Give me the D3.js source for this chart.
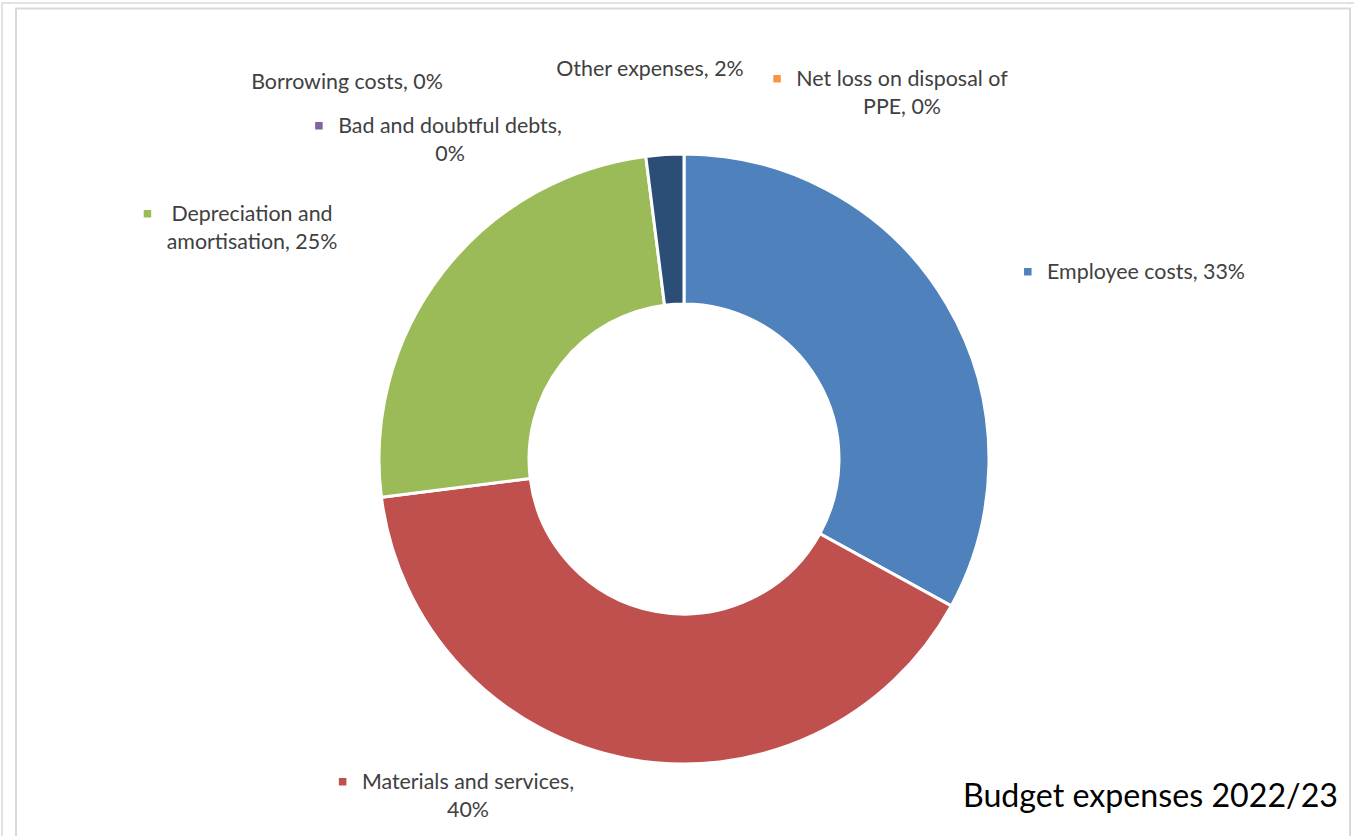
<!DOCTYPE html>
<html>
<head>
<meta charset="utf-8">
<script src="https://cdn.jsdelivr.net/npm/d3@7"></script>
<style>
  html, body { margin: 0; padding: 0; background: #fff; }
  svg { display: block; }
</style>
</head>
<body>
<svg id="chart" width="1354" height="836"></svg>
<script>
// Expense categories, in series order, with their share of the budget (%)
const categories = [
  "Employee costs",
  "Materials and services",
  "Depreciation and amortisation",
  "Bad and doubtful debts",
  "Borrowing costs",
  "Net loss on disposal of PPE",
  "Other expenses"
];
const values = [33, 40, 25, 0, 0, 0, 2];
const colors = ["#4F81BD", "#C0504D", "#9BBB59", "#8064A2", "#4BACC6", "#F79646", "#2C4D75"];
const title = "Budget expenses 2022/23";

// Data label placement: text-block centre x, first-line baseline y,
// number of words kept on the first line, and whether a legend key is shown.
const labelLayout = [
  { cx: 1146, y: 279, firstWords: 99, key: true },
  { cx: 468,  y: 789, firstWords: 3,  key: true },
  { cx: 252,  y: 221, firstWords: 2,  key: true },
  { cx: 450,  y: 133, firstWords: 4,  key: true },
  { cx: 347,  y: 89,  firstWords: 99, key: false },
  { cx: 902,  y: 86,  firstWords: 5,  key: true },
  { cx: 650,  y: 76,  firstWords: 99, key: false }
];

const svg = d3.select("#chart");
const W = 1354, H = 836;

// Chart frames
svg.append("rect")
  .attr("x", 2).attr("y", 3).attr("width", W + 10).attr("height", H + 10)
  .attr("fill", "none").attr("stroke", "#d9d9d9").attr("stroke-width", 1.5);
svg.append("rect")
  .attr("x", 16).attr("y", 8.5).attr("width", 1334).attr("height", H + 10)
  .attr("fill", "#fff").attr("stroke", "#d9d9d9").attr("stroke-width", 2);

// Donut geometry
const cx = 684, cy = 459;
const outerR = 305, innerR = 155;

const pie = d3.pie().sort(null).value(d => d.value).startAngle(0).endAngle(2 * Math.PI);
const arc = d3.arc().innerRadius(innerR).outerRadius(outerR);

const data = categories.map((name, i) => ({ name, value: values[i], color: colors[i], layout: labelLayout[i] }));

const g = svg.append("g").attr("transform", `translate(${cx},${cy})`);
g.selectAll("path.slice")
  .data(pie(data).filter(d => d.data.value > 0))
  .join("path")
  .attr("class", "slice")
  .attr("d", arc)
  .attr("fill", d => d.data.color)
  .attr("stroke", "#fff")
  .attr("stroke-width", 3)
  .attr("stroke-linejoin", "miter");

// Data labels: "Name, value%" with optional legend key
const fontFamily = "Lato, 'Open Sans', sans-serif";
const labelSize = 21.4;
const lineGap = 28;

const labels = svg.append("g").attr("class", "labels");
data.forEach(d => {
  const words = (d.name + ", " + d.value + "%").split(" ");
  const n = Math.min(d.layout.firstWords, words.length);
  const lines = [words.slice(0, n).join(" ")];
  if (n < words.length) lines.push(words.slice(n).join(" "));

  const t = labels.append("text")
    .attr("font-family", fontFamily)
    .attr("font-size", labelSize)
    .attr("fill", "#404040")
    .attr("text-anchor", "middle");
  lines.forEach((line, k) => {
    t.append("tspan")
      .attr("x", d.layout.cx)
      .attr("y", d.layout.y + k * lineGap)
      .text(line);
  });

  if (d.layout.key) {
    let maxW = 0;
    t.selectAll("tspan").each(function () { maxW = Math.max(maxW, this.getComputedTextLength()); });
    const left = d.layout.cx - maxW / 2;
    labels.append("rect")
      .attr("x", left - 23)
      .attr("y", d.layout.y - 11)
      .attr("width", 7.5)
      .attr("height", 7.5)
      .attr("fill", d.color);
  }
});

// Chart title, bottom right
svg.append("text")
  .attr("x", 1338)
  .attr("y", 807)
  .attr("text-anchor", "end")
  .attr("font-family", fontFamily)
  .attr("font-size", 32.2)
  .attr("fill", "#000")
  .text(title);
</script>
</body>
</html>
